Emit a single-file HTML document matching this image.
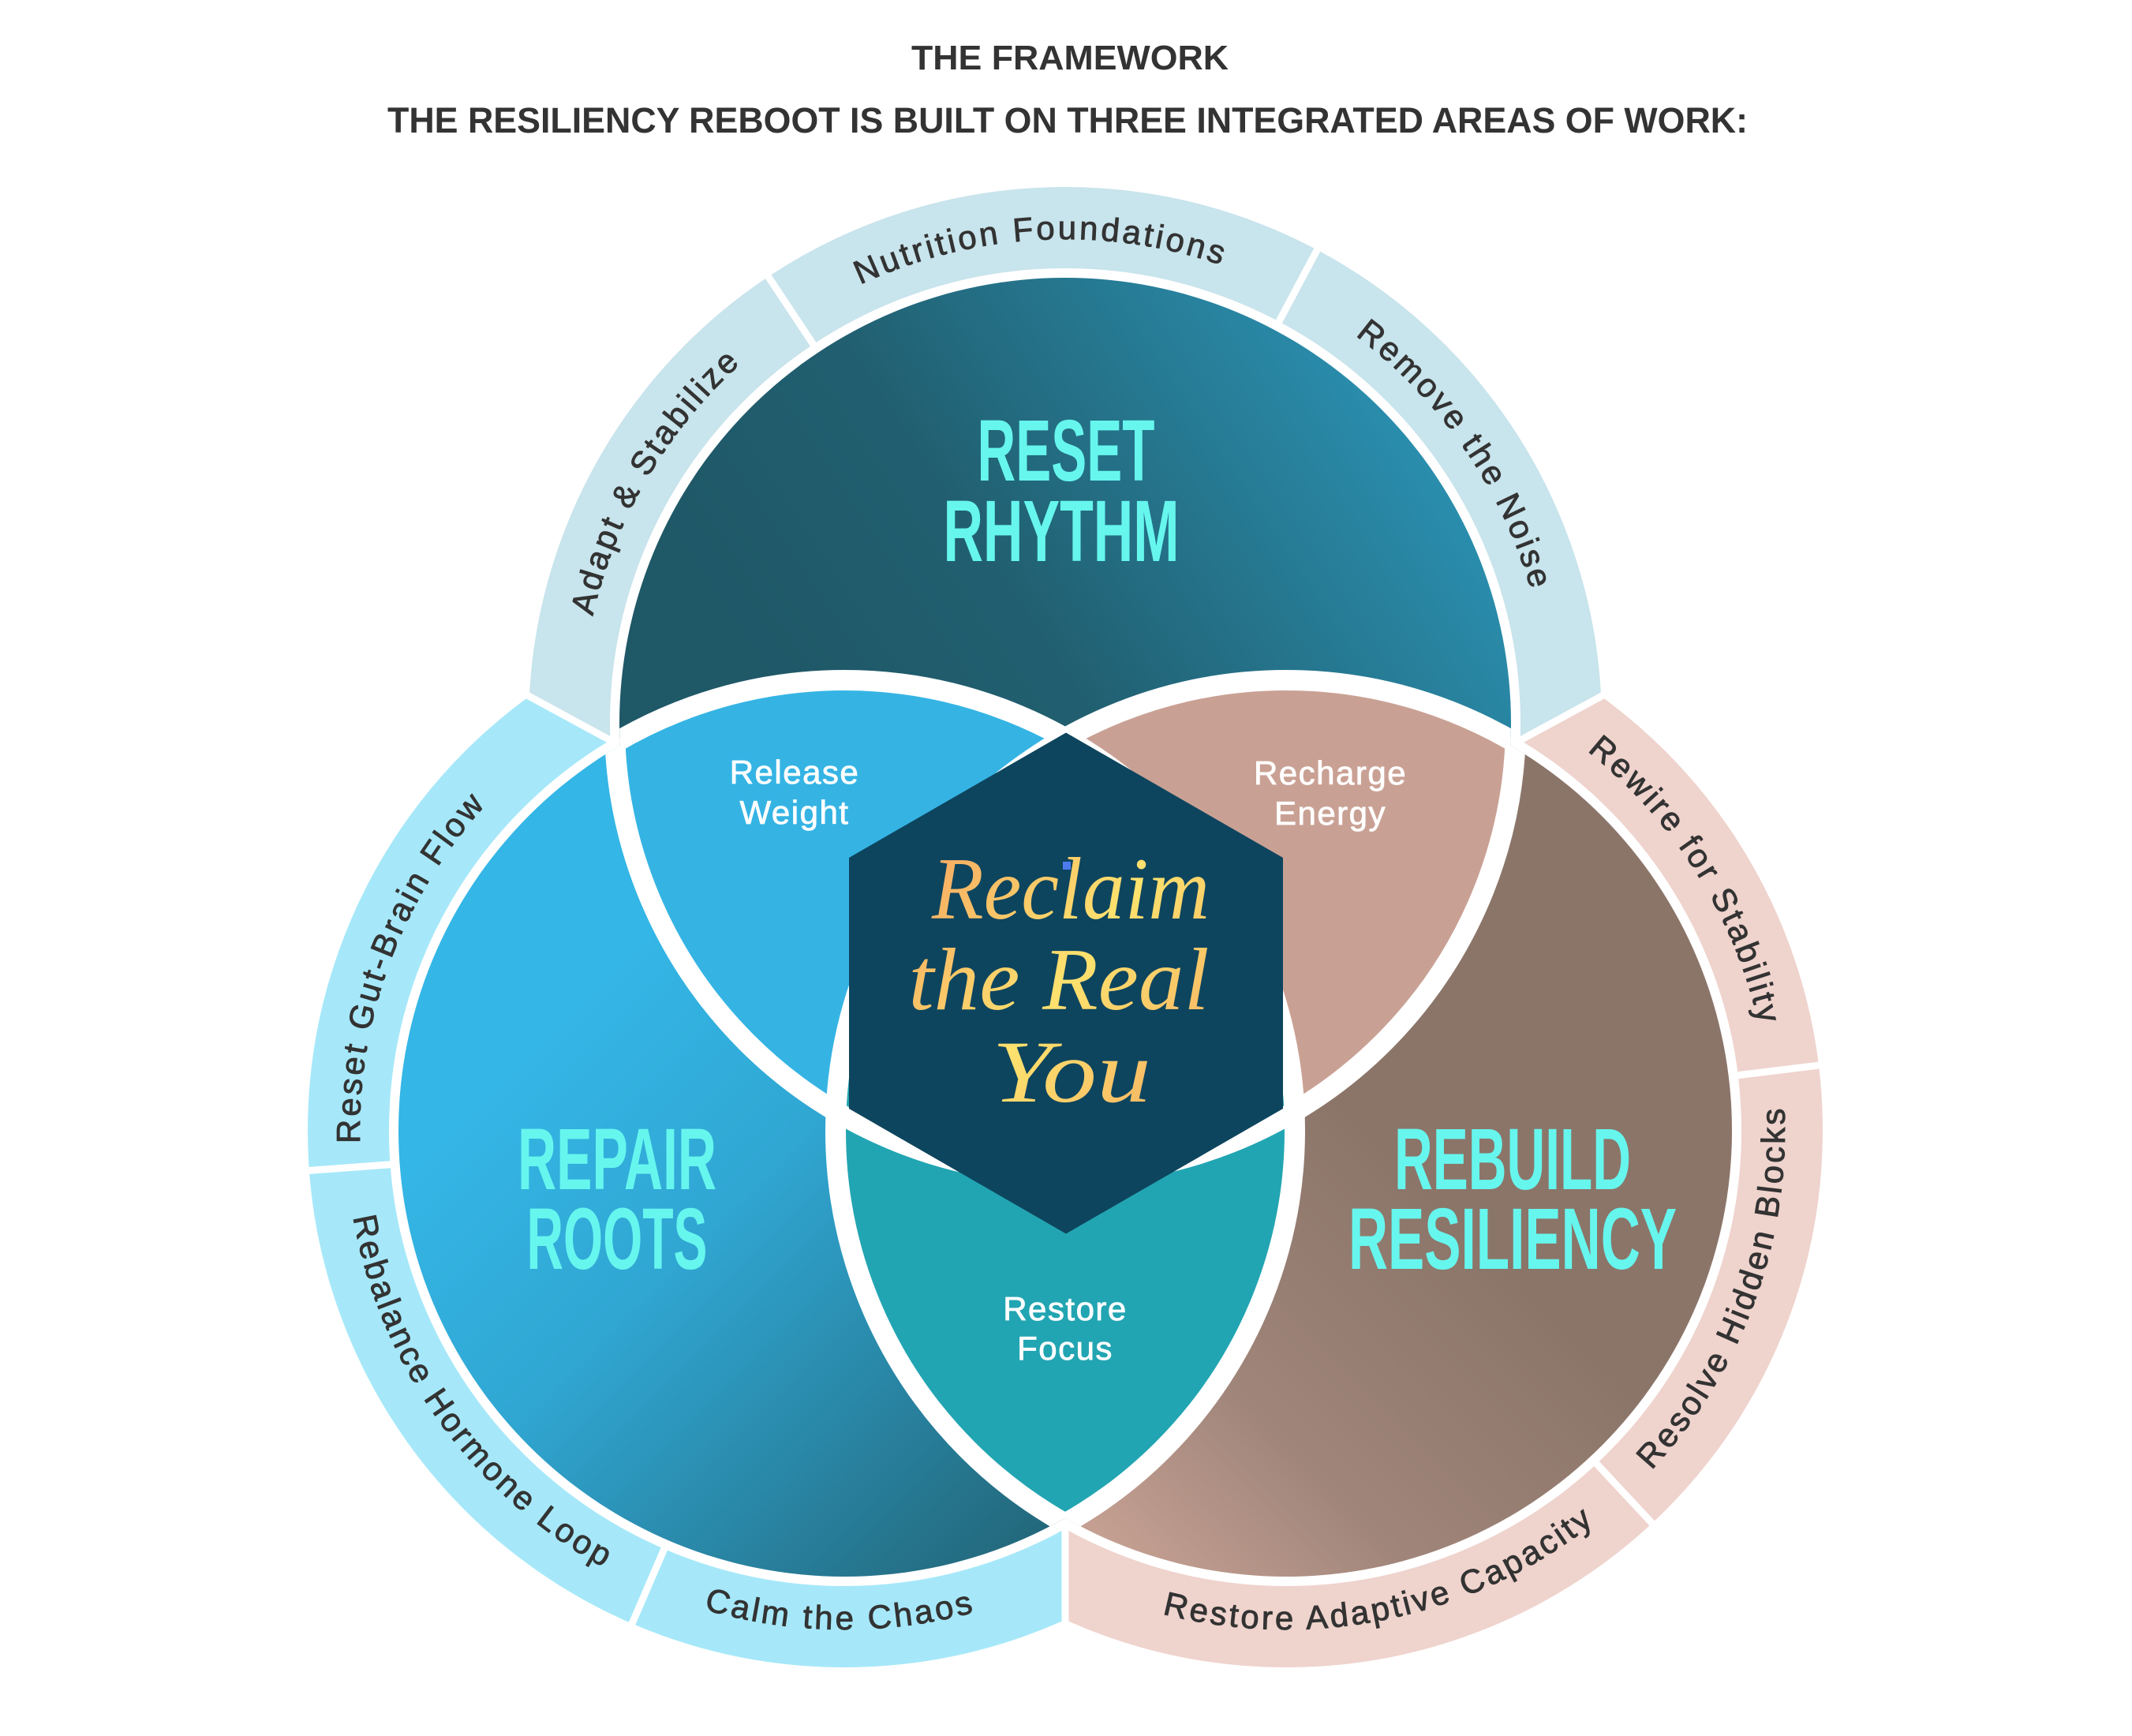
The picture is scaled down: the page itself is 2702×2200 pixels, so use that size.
<!DOCTYPE html>
<html>
<head>
<meta charset="utf-8">
<style>
html,body{margin:0;padding:0;background:#ffffff;width:2702px;height:2200px;overflow:hidden;}
svg{display:block;}
</style>
</head>
<body>
<svg width="2702" height="2200" viewBox="0 0 2702 2200" xmlns="http://www.w3.org/2000/svg" style="overflow:hidden">
<defs>
  <linearGradient id="gT" gradientUnits="userSpaceOnUse" x1="1000" y1="900" x2="1750" y2="400">
    <stop offset="0" stop-color="#1f5867"/>
    <stop offset="0.35" stop-color="#215f70"/>
    <stop offset="1" stop-color="#2b92b3"/>
  </linearGradient>
  <linearGradient id="gL" gradientUnits="userSpaceOnUse" x1="700" y1="1300" x2="1350" y2="1950">
    <stop offset="0" stop-color="#34b6e6"/>
    <stop offset="0.35" stop-color="#30a6d2"/>
    <stop offset="1" stop-color="#226577"/>
  </linearGradient>
  <linearGradient id="gR" gradientUnits="userSpaceOnUse" x1="1450" y1="2050" x2="1900" y2="1600">
    <stop offset="0" stop-color="#c9a395"/>
    <stop offset="0.45" stop-color="#a0857a"/>
    <stop offset="1" stop-color="#8b7569"/>
  </linearGradient>
  <linearGradient id="gS" gradientUnits="userSpaceOnUse" x1="1150" y1="1100" x2="1540" y2="1400">
    <stop offset="0" stop-color="#f5a862"/>
    <stop offset="0.5" stop-color="#fde26e"/>
    <stop offset="1" stop-color="#f6ac62"/>
  </linearGradient>

  <clipPath id="cellT"><polygon points="1350,1251 -714,131 -714,-200 3414,-200 3414,131"/></clipPath>
  <clipPath id="cellL"><polygon points="1350,1251 -714,131 -714,2200 1350,2200"/></clipPath>
  <clipPath id="cellR"><polygon points="1350,1251 3414,131 3414,2200 1350,2200"/></clipPath>

  <clipPath id="inT"><circle cx="1350" cy="917" r="565"/></clipPath>
  <clipPath id="inL"><circle cx="1070" cy="1433" r="565"/></clipPath>

  <clipPath id="notT"><circle cx="1070" cy="1433" r="565"/><circle cx="1630" cy="1433" r="565"/></clipPath>
  <clipPath id="notL"><circle cx="1350" cy="917" r="565"/><circle cx="1630" cy="1433" r="565"/></clipPath>
  <clipPath id="notR"><circle cx="1350" cy="917" r="565"/><circle cx="1070" cy="1433" r="565"/></clipPath>

  <path id="pA" d="M744.4,1018.3 A614,614 0 0,1 1145.0,338.2"/>
  <path id="pN" d="M931.3,467.9 A614,614 0 0,1 1719.5,426.7"/>
  <path id="pRN" d="M1514.1,325.3 A614,614 0 0,1 1961.2,975.8"/>
  <path id="pRG" d="M491.2,1638.0 A614,614 0 0,1 767.7,898.6"/>
  <path id="pRW" d="M1819.7,849.0 A614,614 0 0,1 2238.0,1518.5"/>
  <path id="pRH" d="M446.3,1330.9 A632,632 0 0,0 967.9,2056.7"/>
  <path id="pCC" d="M659.6,1913.6 A632,632 0 0,0 1472.0,1920.7"/>
  <path id="pRA" d="M1285.8,1963.1 A632,632 0 0,0 2160.1,1777.2"/>
  <path id="pRB" d="M1897.1,2005.8 A632,632 0 0,0 2202.8,1165.9"/>
</defs>

<!-- Titles -->
<text x="1356" y="88" text-anchor="middle" font-family="Liberation Sans, sans-serif" font-weight="bold" font-size="44" fill="#333333" textLength="402" lengthAdjust="spacingAndGlyphs">THE FRAMEWORK</text>
<text x="1353" y="168" text-anchor="middle" font-family="Liberation Sans, sans-serif" font-weight="bold" font-size="45" fill="#333333" textLength="1724" lengthAdjust="spacingAndGlyphs">THE RESILIENCY REBOOT IS BUILT ON THREE INTEGRATED AREAS OF WORK:</text>

<!-- Outer rings -->
<circle cx="1350" cy="917" r="628.5" fill="none" stroke="#c8e4ec" stroke-width="103" clip-path="url(#cellT)"/>
<circle cx="1070" cy="1433" r="628.5" fill="none" stroke="#a6e8f9" stroke-width="103" clip-path="url(#cellL)"/>
<circle cx="1630" cy="1433" r="628.5" fill="none" stroke="#efd3cd" stroke-width="103" clip-path="url(#cellR)"/>

<!-- Ring separators -->
<g stroke="#ffffff" stroke-width="9" fill="none">
  <line x1="1350" y1="1251" x2="-714" y2="131"/>
  <line x1="1350" y1="1251" x2="3414" y2="131"/>
  <line x1="1350" y1="1251" x2="1350" y2="2200"/>
  <line x1="1034.6" y1="442.2" x2="968.2" y2="342.3"/>
  <line x1="1617.6" y1="413.7" x2="1674.0" y2="307.8"/>
  <line x1="501.5" y1="1475.2" x2="381.9" y2="1484.1"/>
  <line x1="844.6" y1="1956.5" x2="797.1" y2="2066.7"/>
  <line x1="2195.7" y1="1363.5" x2="2314.8" y2="1348.9"/>
  <line x1="2018.7" y1="1849.9" x2="2100.6" y2="1937.7"/>
</g>

<!-- Ring labels -->
<g font-family="Liberation Sans, sans-serif" font-size="42" fill="#333333" stroke="#333333" stroke-width="0.9" letter-spacing="3.5">
  <text><textPath href="#pA" startOffset="50%" text-anchor="middle">Adapt &amp; Stabilize</textPath></text>
  <text><textPath href="#pN" startOffset="50%" text-anchor="middle">Nutrition Foundations</textPath></text>
  <text><textPath href="#pRN" startOffset="50%" text-anchor="middle">Remove the Noise</textPath></text>
  <text><textPath href="#pRG" startOffset="50%" text-anchor="middle">Reset Gut-Brain Flow</textPath></text>
  <text><textPath href="#pRW" startOffset="50%" text-anchor="middle">Rewire for Stability</textPath></text>
  <text><textPath href="#pRH" startOffset="50%" text-anchor="middle">Rebalance Hormone Loop</textPath></text>
  <text><textPath href="#pCC" startOffset="50%" text-anchor="middle">Calm the Chaos</textPath></text>
  <text><textPath href="#pRA" startOffset="50%" text-anchor="middle">Restore Adaptive Capacity</textPath></text>
  <text><textPath href="#pRB" startOffset="50%" text-anchor="middle">Resolve Hidden Blocks</textPath></text>
</g>

<!-- Main circles -->
<circle cx="1350" cy="917" r="565" fill="url(#gT)"/>
<circle cx="1070" cy="1433" r="565" fill="url(#gL)"/>
<circle cx="1630" cy="1433" r="565" fill="url(#gR)"/>

<!-- Lenses -->
<circle cx="1070" cy="1433" r="565" fill="#35b4e4" clip-path="url(#inT)"/>
<circle cx="1630" cy="1433" r="565" fill="#c9a194" clip-path="url(#inT)"/>
<circle cx="1630" cy="1433" r="565" fill="#22a5b2" clip-path="url(#inL)"/>

<!-- Internal white outlines -->
<circle cx="1350" cy="917" r="571" fill="none" stroke="#ffffff" stroke-width="26" clip-path="url(#notT)"/>
<circle cx="1070" cy="1433" r="571" fill="none" stroke="#ffffff" stroke-width="26" clip-path="url(#notL)"/>
<circle cx="1630" cy="1433" r="571" fill="none" stroke="#ffffff" stroke-width="26" clip-path="url(#notR)"/>

<!-- Hexagon -->
<polygon points="1351,928.5 1626,1087 1626,1405 1351,1563.5 1076,1405 1076,1087" fill="#0e455e"/>
<rect x="1347" y="1092" width="10" height="10" fill="#4b7bef"/>

<!-- Script text -->
<g font-family="Liberation Serif, serif" font-style="italic" font-size="112" fill="url(#gS)" text-anchor="middle">
  <text x="1357" y="1164" textLength="352" lengthAdjust="spacingAndGlyphs">Reclaim</text>
  <text x="1342" y="1279" textLength="381" lengthAdjust="spacingAndGlyphs">the Real</text>
  <text x="1358" y="1396" textLength="202" lengthAdjust="spacingAndGlyphs">You</text>
</g>

<!-- Circle titles -->
<g font-family="Liberation Sans Narrow, Liberation Sans, sans-serif" font-weight="bold" font-size="110" fill="#66f6ee" text-anchor="middle">
  <text x="1351" y="609" textLength="225" lengthAdjust="spacingAndGlyphs">RESET</text>
  <text x="1345" y="711" textLength="299" lengthAdjust="spacingAndGlyphs">RHYTHM</text>
  <text x="782" y="1507" textLength="252" lengthAdjust="spacingAndGlyphs">REPAIR</text>
  <text x="782" y="1608" textLength="229" lengthAdjust="spacingAndGlyphs">ROOTS</text>
  <text x="1917" y="1507" textLength="300" lengthAdjust="spacingAndGlyphs">REBUILD</text>
  <text x="1917" y="1608" textLength="416" lengthAdjust="spacingAndGlyphs">RESILIENCY</text>
</g>

<!-- Lens labels -->
<g font-family="Liberation Sans, sans-serif" font-size="42" fill="#ffffff" stroke="#ffffff" stroke-width="0.8" text-anchor="middle" letter-spacing="1.5">
  <text x="1007" y="993">Release</text>
  <text x="1007" y="1044">Weight</text>
  <text x="1686" y="994">Recharge</text>
  <text x="1686" y="1045">Energy</text>
  <text x="1350" y="1673">Restore</text>
  <text x="1350" y="1723">Focus</text>
</g>
</svg>
</body>
</html>
